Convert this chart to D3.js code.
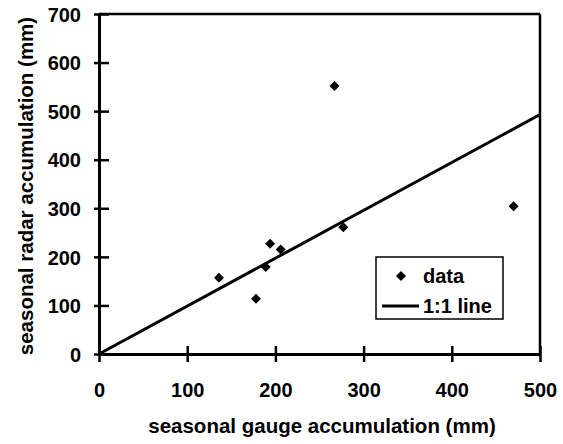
<!DOCTYPE html>
<html>
<head>
<meta charset="utf-8">
<script src="https://cdn.jsdelivr.net/npm/d3@7"></script>
<style>
  html, body { margin: 0; padding: 0; background: #fff; }
  svg { display: block; font-family: "Liberation Sans", Arial, Helvetica, sans-serif; font-weight: bold; }
</style>
</head>
<body>
<svg id="chart" width="563" height="444"></svg>
<script>
// Data
const gaugeValues = [136, 178, 189, 194, 206, 267, 277, 470];
const radarValues = [157, 114, 179, 227, 215, 552, 261, 304];
const lineX = [0, 500];
const lineY = [0, 493];
const xTicks = [0, 100, 200, 300, 400, 500];
const yTicks = [0, 100, 200, 300, 400, 500, 600, 700];
const xTitle = "seasonal gauge accumulation (mm)";
const yTitle = "seasonal radar accumulation (mm)";
const legendLabels = ["data", "1:1 line"];

const svg = d3.select("#chart");
const x = d3.scaleLinear().domain([0, 500]).range([99, 540]);
const y = d3.scaleLinear().domain([0, 700]).range([354, 14]);

// top and right border
svg.append("line").attr("x1", x(0)).attr("x2", x(500)).attr("y1", y(700)).attr("y2", y(700))
  .attr("stroke", "#000").attr("stroke-width", 2.5);
svg.append("line").attr("x1", x(500)).attr("x2", x(500)).attr("y1", y(700)).attr("y2", y(0))
  .attr("stroke", "#000").attr("stroke-width", 2.5);

// x axis
const gx = svg.append("g").attr("transform", `translate(0,${y(0)})`)
  .call(d3.axisBottom(x).tickValues(xTicks).tickSize(8).tickPadding(0).tickSizeOuter(0));
gx.select(".domain").attr("stroke-width", 3);
gx.selectAll(".tick line").attr("y1", -8).attr("y2", 8).attr("stroke-width", 2.5);
gx.selectAll(".tick text").attr("y", 43).attr("dy", null)
  .style("font-size", "20px").style("font-weight", "bold").attr("fill", "#000")
  .style("font-family", "'Liberation Sans', Arial, sans-serif");

// y axis
const gy = svg.append("g").attr("transform", `translate(${x(0)},0)`)
  .call(d3.axisLeft(y).tickValues(yTicks).tickSize(5).tickPadding(0).tickSizeOuter(0));
gy.select(".domain").attr("stroke-width", 3);
gy.selectAll(".tick line").attr("x1", -5).attr("x2", 10).attr("stroke-width", 2.5);
gy.selectAll(".tick text").attr("x", -18).attr("dy", "0.36em")
  .style("font-size", "20px").style("font-weight", "bold").attr("fill", "#000")
  .style("font-family", "'Liberation Sans', Arial, sans-serif");

// 1:1 line
svg.append("line")
  .attr("x1", x(lineX[0])).attr("y1", y(lineY[0]))
  .attr("x2", x(lineX[1])).attr("y2", y(lineY[1]))
  .attr("stroke", "#000").attr("stroke-width", 3);

// data points (diamonds)
const diamond = d3.symbol(d3.symbolSquare, 50);
svg.append("g").selectAll("path").data(gaugeValues.map((g, i) => [g, radarValues[i]]))
  .join("path")
  .attr("d", diamond)
  .attr("transform", d => `translate(${x(d[0])},${y(d[1])}) rotate(45)`)
  .attr("fill", "#000");

// axis titles
svg.append("text").attr("x", 322).attr("y", 433).attr("text-anchor", "middle")
  .style("font-size", "20.5px").text(xTitle);
svg.append("text").attr("transform", `translate(33,186) rotate(-90)`).attr("text-anchor", "middle")
  .style("font-size", "20.5px").text(yTitle);

// legend
const lg = svg.append("g");
lg.append("rect").attr("x", 376).attr("y", 257).attr("width", 127).attr("height", 62)
  .attr("fill", "#fff").attr("stroke", "#000").attr("stroke-width", 1.5);
lg.append("path").attr("d", diamond).attr("transform", "translate(401,276) rotate(45)").attr("fill", "#000");
lg.append("text").attr("x", 423).attr("y", 283).style("font-size", "20px").text(legendLabels[0]);
lg.append("line").attr("x1", 382).attr("x2", 419).attr("y1", 306).attr("y2", 306)
  .attr("stroke", "#000").attr("stroke-width", 3);
lg.append("text").attr("x", 423).attr("y", 313).style("font-size", "20px").text(legendLabels[1]);
</script>
</body>
</html>
